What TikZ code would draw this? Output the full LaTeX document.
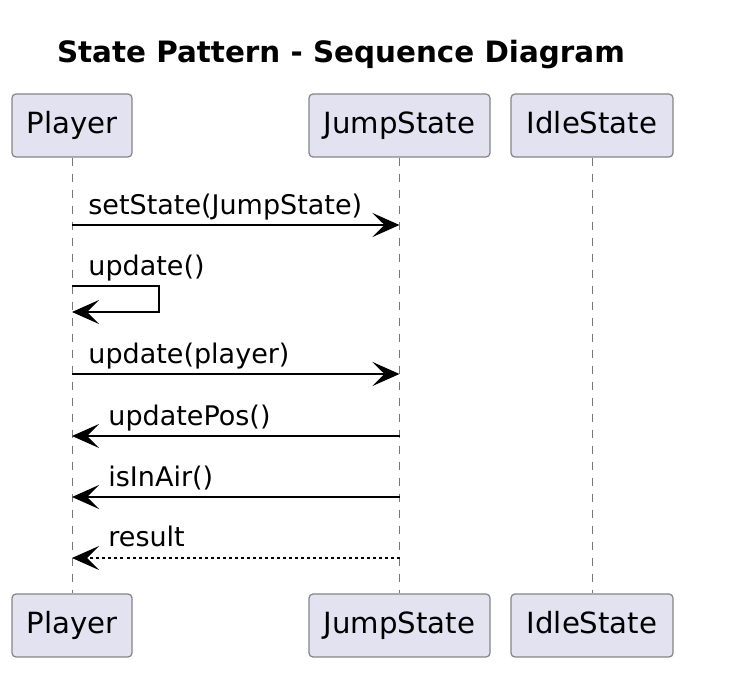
\documentclass[tikz,border=0pt]{standalone}
\usepackage{fontspec}
\setmainfont{DejaVu Sans}
\usetikzlibrary{arrows.meta}
\definecolor{boxfill}{HTML}{E2E2F0}
\definecolor{boxline}{HTML}{858585}
\definecolor{lifegray}{HTML}{7A7A7A}

\begin{document}
\begin{tikzpicture}[x=0.5pt, y=-0.5pt,
    actor/.style={draw=boxline, fill=boxfill, line width=0.6pt, rounded corners=2pt,
        minimum height=31.5pt, inner xsep=0pt, text height=10.6pt, text depth=2.8pt,
        font=\fontsize{14.6}{17}\selectfont},
    life/.style={draw=lifegray, line width=0.5pt, dash pattern=on 4pt off 4pt},
    msg/.style={line width=0.9pt, -{Stealth[length=13.5pt, width=12pt, inset=6pt]}},
    reply/.style={msg, dash pattern=on 1.5pt off 1.5pt},
    lbl/.style={anchor=base west, inner sep=0pt, font=\fontsize{13.5}{16}\selectfont}]
    \useasboundingbox (0,0) rectangle (756,678);

    % title
    \node[anchor=base, inner sep=0pt, font=\fontsize{14.7}{17}\selectfont\bfseries] (title) at (341,63) {State Pattern - Sequence Diagram};

    % --- participants ---
    \node[actor, minimum width=60pt]   (ptop) at (72,125.5)  {Player};
    \node[actor, minimum width=90.5pt] (jtop) at (399.5,125.5) {JumpState};
    \node[actor, minimum width=81pt]   (itop) at (592,125.5) {IdleState};
    \node[actor, minimum width=60pt]   (pbot) at (72,625.5)  {Player};
    \node[actor, minimum width=90.5pt] (jbot) at (399.5,625.5) {JumpState};
    \node[actor, minimum width=81pt]   (ibot) at (592,625.5) {IdleState};

    % --- lifelines ---
    \draw[life] (ptop) -- (pbot);
    \draw[life] (jtop) -- (jbot);
    \draw[life] (itop) -- (ibot);

    % --- points on the lifelines ---
    \coordinate (p1) at (ptop.south |- 0,225);
    \coordinate (j1) at (jtop.south |- 0,225);
    \coordinate (p2) at (ptop.south |- 0,286);
    \coordinate (s2) at (159,286);
    \coordinate (s3) at (159,312);
    \coordinate (p3) at (ptop.south |- 0,312);
    \coordinate (p4) at (ptop.south |- 0,374);
    \coordinate (j4) at (jtop.south |- 0,374);
    \coordinate (p5) at (ptop.south |- 0,436);
    \coordinate (j5) at (jtop.south |- 0,436);
    \coordinate (p6) at (ptop.south |- 0,497);
    \coordinate (j6) at (jtop.south |- 0,497);
    \coordinate (p7) at (ptop.south |- 0,558);
    \coordinate (j7) at (jtop.south |- 0,558);

    % --- messages ---
    \draw[msg] (p1) -- (j1);
    \node[lbl] (l1) at (88,215) {setState(JumpState)};

    \draw[msg] (p2) -- (s2) -- (s3) -- (p3);
    \node[lbl] (l2) at (88,276) {update()};

    \draw[msg] (p4) -- (j4);
    \node[lbl] (l3) at (88,364) {update(player)};

    \draw[msg] (j5) -- (p5);
    \node[lbl] (l4) at (108,426) {updatePos()};

    \draw[msg] (j6) -- (p6);
    \node[lbl] (l5) at (108,487) {isInAir()};

    \draw[reply] (j7) -- (p7);
    \node[lbl] (l6) at (108,547) {result};
\end{tikzpicture}
\end{document}
